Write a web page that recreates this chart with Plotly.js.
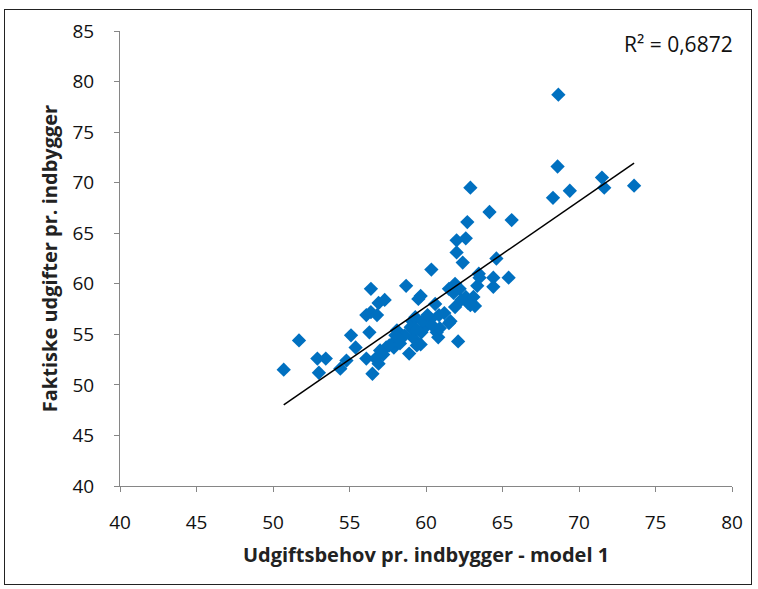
<!DOCTYPE html>
<html>
<head>
<meta charset="utf-8">
<script src="https://cdn.plot.ly/plotly-3.0.1.min.js"></script>
<style>
html,body{margin:0;padding:0;background:#fff;}
#frame{position:absolute;left:4px;top:9px;width:748px;height:576px;border:1.5px solid #222;box-sizing:border-box;}
#chart{position:absolute;left:0;top:0;width:758px;height:589px;}
</style>
</head>
<body>
<div id="frame"></div>
<div id="chart"></div>
<script>
// Udgiftsbehov pr. indbygger - model 1 (x) vs Faktiske udgifter pr. indbygger (y)
const udgiftsbehov = [
50.7,51.7,52.9,53.45,53.0,54.4,54.8,55.1,55.4,56.4,56.1,56.4,56.3,56.1,56.5,56.7,56.9,56.8,56.9,57.3,
57.2,57.4,58.0,58.1,57.9,58.7,58.9,59.1,59.15,59.2,59.4,59.5,59.65,59.65,59.7,59.9,60.0,60.3,60.35,60.6,
60.7,60.8,60.85,61.5,61.5,61.6,61.9,61.9,62.0,62.0,62.1,62.2,62.4,62.6,62.6,62.7,62.75,62.9,63.1,63.2,
63.35,63.45,63.5,64.15,64.4,64.4,64.6,65.4,65.6,68.3,68.6,68.65,69.4,71.5,71.65,73.6,
58.3,58.6,59.0,59.3,59.8,60.1,60.4,61.2,61.8,62.3,62.9,57.6,57.0,60.9,59.4,58.0
];
const faktiskeUdgifter = [
51.5,54.4,52.6,52.6,51.2,51.6,52.4,54.9,53.7,59.5,56.9,57.2,55.2,52.6,51.1,52.6,52.1,56.9,58.1,58.4,
53.0,53.7,54.4,55.4,53.7,59.8,53.1,56.3,55.4,54.6,53.9,58.5,58.8,54.0,55.2,56.1,55.8,56.5,61.4,58.0,
55.2,54.7,56.9,59.5,56.1,56.3,60.0,57.7,64.3,63.1,54.3,59.5,62.1,64.5,58.7,66.1,58.1,69.5,58.7,57.8,
59.8,61.0,60.6,67.1,59.7,60.6,62.5,60.6,66.3,68.5,71.6,78.7,69.2,70.5,69.5,69.7,
54.1,54.9,55.7,56.7,56.3,56.9,55.9,57.1,59.1,58.4,57.9,53.9,53.4,55.6,55.5,54.9
];
const r2Label = "R² = 0,6872";
const xTitle = "Udgiftsbehov pr. indbygger - model 1";
const yTitle = "Faktiske udgifter pr. indbygger";

// least squares trendline
const n = udgiftsbehov.length;
const mx = udgiftsbehov.reduce((a,b)=>a+b,0)/n;
const my = faktiskeUdgifter.reduce((a,b)=>a+b,0)/n;
let sxy=0,sxx=0;
for(let i=0;i<n;i++){sxy+=(udgiftsbehov[i]-mx)*(faktiskeUdgifter[i]-my);sxx+=(udgiftsbehov[i]-mx)**2;}
const slope = sxy/sxx, icpt = my - slope*mx;
const xmin = Math.min(...udgiftsbehov), xmax = Math.max(...udgiftsbehov);

const font = "'Open Sans', Lato, sans-serif";
const data = [
  {x: udgiftsbehov, y: faktiskeUdgifter, type:'scatter', mode:'markers',
   marker:{symbol:'diamond', size:11, color:'#0070C0'}, hoverinfo:'x+y'},
  {x:[xmin,xmax], y:[slope*xmin+icpt, slope*xmax+icpt], type:'scatter', mode:'lines',
   line:{color:'#000', width:1.5}, hoverinfo:'skip'}
];
const axisCommon = {
  showgrid:false, zeroline:false, showline:true, linecolor:'#868686', linewidth:1,
  ticks:'outside', ticklen:5, tickcolor:'#868686', tickwidth:1,
  tickfont:{family:font, size:19, color:'#111'}
};
const layout = {
  width:758, height:589, showlegend:false,
  paper_bgcolor:'rgba(0,0,0,0)', plot_bgcolor:'#fff',
  margin:{l:120, r:26, t:31, b:103},
  xaxis: Object.assign({}, axisCommon, {range:[40,80], dtick:5, tick0:40, ticklabelstandoff:14,
    title:{text:xTitle, font:{family:font, size:20, color:'#222', weight:'bold'}, standoff:14}}),
  yaxis: Object.assign({}, axisCommon, {range:[40,85], dtick:5, tick0:40, ticklabelstandoff:16,
    title:{text:yTitle, font:{family:font, size:20, color:'#222', weight:'bold'}, standoff:9}}),
  annotations:[{text:r2Label, xref:'paper', yref:'paper', x:1.005, y:0.972, xanchor:'right', yanchor:'middle',
    showarrow:false, font:{family:font, size:21, color:'#111'}}]
};
Plotly.newPlot('chart', data, layout, {displayModeBar:false, staticPlot:true});
</script>
</body>
</html>
